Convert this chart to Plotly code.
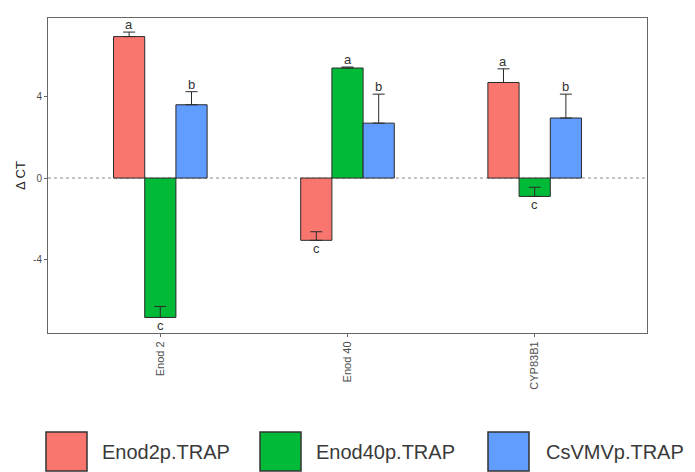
import plotly.graph_objects as go

categories = ["Enod 2", "Enod 40", "CYP83B1"]
series_names = ["Enod2p.TRAP", "Enod40p.TRAP", "CsVMVp.TRAP"]
colors = ["#F8766D", "#00BA38", "#619CFF"]
values = {
    "Enod2p.TRAP": [6.93, -3.05, 4.68],
    "Enod40p.TRAP": [-6.83, 5.39, -0.90],
    "CsVMVp.TRAP": [3.59, 2.69, 2.94],
}
errors = {
    "Enod2p.TRAP": [0.22, 0.42, 0.67],
    "Enod40p.TRAP": [0.54, 0.05, 0.45],
    "CsVMVp.TRAP": [0.64, 1.42, 1.17],
}
letters = {
    "Enod2p.TRAP": ["a", "c", "a"],
    "Enod40p.TRAP": ["c", "a", "c"],
    "CsVMVp.TRAP": ["b", "b", "b"],
}
y_ticks = [-4, 0, 4]

W, H = 695, 472
L, R, T, B = 48, 48, 18, 139
pw, ph = W - L - R, H - T - B
x_range = [-0.6, 2.6]
bargap = 0.5
px_per_unit = pw / (x_range[1] - x_range[0])
bar_px = (1 - bargap) / len(series_names) * px_per_unit

def px2x(px):
    return (px - L) / pw

def py2y(py):
    return (H - B - py) / ph

fig = go.Figure()
annotations = []
shapes = []
for j, name in enumerate(series_names):
    fig.add_trace(go.Bar(
        x=categories, y=values[name], name=name,
        marker=dict(color=colors[j], line=dict(color="#2b2b2b", width=1)),
        error_y=dict(type="data", symmetric=False, array=errors[name],
                     arrayminus=[0] * len(categories),
                     color="#2b2b2b", thickness=1, width=6),
        showlegend=False,
    ))
    for i, cat in enumerate(categories):
        v = values[name][i]
        e = errors[name][i]
        if v >= 0:
            annotations.append(dict(x=cat, y=v + e, xref="x", yref="y", text=letters[name][i],
                                    showarrow=False, yanchor="bottom", xshift=(j - 1) * bar_px,
                                    yshift=-2, font=dict(size=13, color="#333333")))
        else:
            annotations.append(dict(x=cat, y=v, xref="x", yref="y", text=letters[name][i],
                                    showarrow=False, yanchor="top", xshift=(j - 1) * bar_px,
                                    yshift=1, font=dict(size=13, color="#333333")))

# zero dotted line
shapes.append(dict(type="line", xref="paper", yref="y", x0=0, x1=1, y0=0, y1=0,
                   line=dict(color="#8a8a8a", width=1, dash="dot"), layer="below"))

# manual legend
key_left = [46, 260, 488]
text_left = [100, 314, 544]
for j, name in enumerate(series_names):
    shapes.append(dict(type="rect", xref="paper", yref="paper",
                       x0=px2x(key_left[j]), x1=px2x(key_left[j] + 41),
                       y0=py2y(471), y1=py2y(432),
                       fillcolor=colors[j], line=dict(color="#333333", width=1.5)))
    annotations.append(dict(x=px2x(text_left[j]), y=py2y(452), xref="paper", yref="paper",
                            text=name, showarrow=False, xanchor="left", yanchor="middle",
                            font=dict(size=20, color="#3a3a3a")))

axis_common = dict(showgrid=False, zeroline=False, showline=True, linecolor="#666666",
                   linewidth=1, mirror=True, ticks="outside", ticklen=3, tickcolor="#666666")

fig.update_layout(
    width=W, height=H,
    margin=dict(l=L, r=R, t=T, b=B, pad=0),
    paper_bgcolor="white", plot_bgcolor="white",
    barmode="group", bargap=bargap, bargroupgap=0,
    font=dict(family="Liberation Sans, Arial, sans-serif", color="#333333"),
    xaxis=dict(range=x_range, tickangle=-90, tickfont=dict(size=11, color="#4d4d4d"),
               **axis_common),
    yaxis=dict(range=[-7.59, 7.84], tickvals=y_ticks, ticktext=[str(t) for t in y_ticks],
               tickfont=dict(size=10, color="#4d4d4d"),
               title=dict(text="Δ CT", font=dict(size=13, color="#222222"), standoff=4),
               **axis_common),
    annotations=annotations,
    shapes=shapes,
)

fig.write_html("out.html")
